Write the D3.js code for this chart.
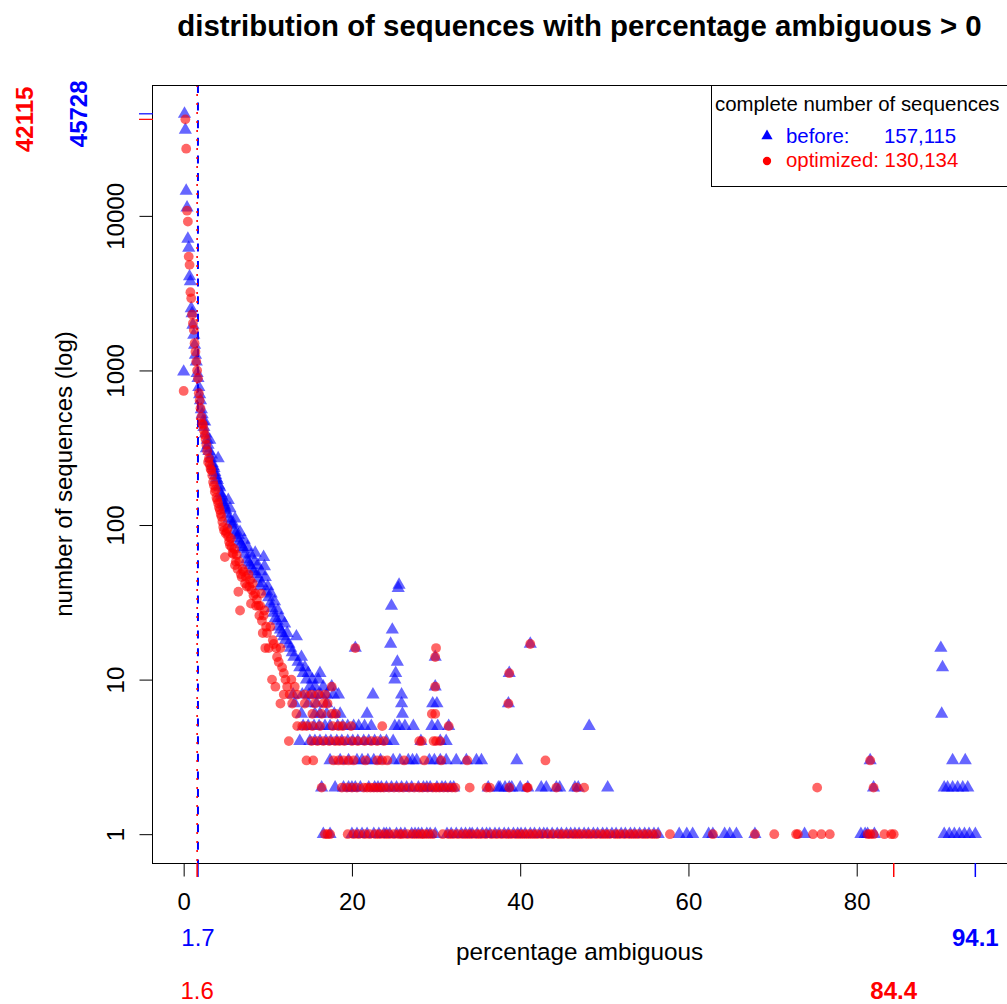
<!DOCTYPE html>
<html>
<head>
<meta charset="utf-8">
<script src="https://cdn.jsdelivr.net/npm/d3@7"></script>
<style>
  body { margin: 0; background: #fff; }
  svg { display: block; }
  text { font-family: "Liberation Sans", Arial, Helvetica, sans-serif; }
</style>
</head>
<body>
<svg id="chart" width="1007" height="1004"></svg>
<script>
// ---- data: percentage ambiguous vs. number of sequences ----
// steep part of the distribution, [percentage, count]
const beforeCurve = [
  [0.0,980],[0.1,45728],[0.2,36000],[0.3,14500],[0.4,11300],[0.5,7100],[0.6,6200],[0.7,4050],[0.8,3760],[0.9,2520],
  [1.0,2340],[1.1,1970],[1.2,1700],[1.3,1460],[1.4,1260],[1.5,1140],[1.6,960],[1.7,890],[1.8,780],[1.9,700],
  [2.0,640],[2.1,560],[2.2,520],[2.3,470],[2.4,430],[2.5,466],[2.6,390],[2.7,313],[2.8,355],[2.9,330],
  [3.0,300],[3.1,355],[3.2,270],[3.3,285],[3.4,250],[3.5,240],[3.6,233],[3.7,220],[3.8,210],[3.9,200],
  [4.0,195],[4.1,270],[4.2,180],[4.3,175],[4.4,160],[4.5,155],[4.6,150],[4.7,140],[4.8,135],[4.9,131],
  [5.0,125],[5.2,118],[5.3,145],[5.4,110],[5.5,128],[5.6,105],[5.8,100],[5.9,102],[6.0,92],[6.1,110],
  [6.2,88],[6.4,82],[6.5,86],[6.6,78],[6.7,90],[6.8,75],[7.0,72],[7.1,70],[7.2,80],[7.3,65],
  [7.5,60],[7.6,72],[7.7,57],[7.9,55],[8.0,64],[8.1,52],[8.3,50],[8.4,58],[8.5,66],[8.7,48],
  [8.8,55],[8.9,45],[9.1,40],[9.2,50],[9.3,42],[9.5,62],[9.6,54],[9.7,46],[9.9,37],[10.0,40],
  [10.1,34],[10.3,31],[10.4,36],[10.5,29],[10.7,27],[10.8,32],[10.9,25],[11.1,24],[11.2,28],[11.3,22],
  [11.5,21],[11.6,25],[11.7,20],[11.9,19],[12.0,23],[12.1,18],[12.3,20],[12.5,17],[12.7,16],[12.9,15],
  [13.1,14],[13.4,19],[13.6,13],[13.8,12],[14.0,14],[14.2,11],[14.4,12],[14.6,10],[14.8,11],[15.0,9],
  [15.3,10],[15.6,9],[16.0,10],[16.2,11],[16.6,9],[17.6,9],[20.4,16],[24.6,17],[24.7,30],[24.8,21],
  [25.1,10],[25.2,11],[25.4,13],[25.5,39],[25.6,41],[29.9,14],[29.9,9],[38.7,11],[41.2,17],[90.0,16],
  [90.2,12]
];
const optimizedCurve = [
  [0.0,737],[0.2,42115],[0.3,27200],[0.4,10800],[0.5,9190],[0.6,5450],[0.7,4820],[0.8,3210],[0.9,2930],
  [1.0,2300],[1.1,2020],[1.2,1830],[1.3,1500],[1.4,1320],[1.5,1140],[1.6,1000],[1.7,890],[1.8,712],[1.9,640],
  [2.0,570],[2.1,500],[2.2,455],[2.3,444],[2.4,410],[2.5,383],[2.6,360],[2.7,330],[2.8,300],[2.9,256],
  [3.0,270],[3.1,245],[3.2,230],[3.3,226],[3.4,210],[3.5,190],[3.6,180],[3.7,164],[3.8,170],[3.9,150],
  [4.0,145],[4.1,138],[4.2,130],[4.3,125],[4.4,118],[4.5,113],[4.6,105],[4.7,97],[4.8,92],[4.9,62],
  [5.0,88],[5.1,90],[5.2,95],[5.3,84],[5.4,78],[5.5,74],[5.6,82],[5.7,72],[5.8,66],[5.9,65],
  [6.0,70],[6.1,55],[6.2,58],[6.3,64],[6.4,52],[6.5,37],[6.6,58],[6.7,28],[6.8,48],[6.9,46],
  [7.0,52],[7.1,50],[7.3,42],[7.4,46],[7.5,40],[7.7,48],[7.8,40],[7.9,44],[8.0,31],[8.1,38],
  [8.2,42],[8.3,35],[8.5,36],[8.6,30],[8.7,33],[8.9,30],[9.0,26],[9.1,30],[9.2,36],[9.3,24],
  [9.4,20],[9.5,26],[9.6,28],[9.7,16],[9.8,22],[9.9,20],[10.1,16],[10.3,22],[10.5,10],[10.6,18],
  [10.7,17],[10.9,9],[11.0,16],[11.1,14],[11.3,13],[11.5,16],[11.7,12],[11.9,11],[12.1,10],[12.3,9],
  [12.8,10],[13.2,9],[17.6,9],[20.4,16],[29.9,14],[30.0,16],[29.9,9],[38.7,11],[41.2,17]
];

// tail of the distribution: percentages that occur a small number of times
const beforeEights = [13.0,14.1,14.9,15.6,16.3,17.0,17.8,18.4,22.5,25.9];
const beforeSevens = [13.2,14.8,15.8,17.0,25.9,29.6,30.1,38.6];
const beforeSixes  = [14.0,15.6,16.2,17.0,17.9,18.6,21.8,26.0,90.1];
const beforeFives  = [14.2,14.8,15.5,16.1,16.8,17.4,18.3,18.9,19.5,20.2,20.8,21.5,22.3,25.1,25.6,26.3,27.3,29.5,30.2,31.5,48.2];
const beforeFours  = [13.8,15.0,15.6,16.2,16.9,17.5,18.2,18.8,19.5,20.1,20.7,21.4,22.0,22.7,23.4,24.1,24.9,28.2,30.5,31.2];
const beforeThrees = [17.4,18.6,19.6,20.6,21.2,21.9,22.6,23.4,24.9,25.7,26.7,27.2,27.7,29.2,29.8,30.5,31.2,32.4,33.6,34.8,35.4,39.6,81.6,91.4,92.9];
const beforeTwos   = [16.4,18.0,19.0,19.6,20.0,20.4,21.0,22.0,22.7,23.1,23.5,24.1,24.7,25.3,25.9,26.5,27.1,27.9,28.5,28.9,29.3,30.1,30.7,31.1,31.7,32.1,
  36.2,37.4,37.6,38.2,38.7,39.0,40.0,40.9,42.5,43.1,44.3,44.7,46.5,46.9,50.4,82.0,90.4,90.8,91.4,92.0,92.6,93.2];
const beforeOnes   = [16.6,17.4,20.0,20.6,21.2,21.8,22.6,23.2,23.8,24.1,24.5,25.3,25.8,26.3,27.1,27.5,27.9,28.3,28.9,29.3,29.9,
  31.3,31.8,32.4,33.0,33.5,34.0,34.3,34.9,35.5,36.0,36.4,37.0,37.5,38.1,38.6,39.2,39.7,40.1,40.6,41.2,41.7,42.3,42.8,43.2,43.8,
  44.4,44.9,45.5,46.0,46.5,47.0,47.6,48.1,48.7,49.2,49.8,50.3,50.9,51.4,52.0,52.5,53.1,53.6,54.2,54.8,55.3,55.9,56.4,
  58.9,59.8,60.5,62.4,62.9,64.3,64.9,65.7,67.9,73.8,80.5,81.0,81.3,82.1,90.4,91.0,91.6,92.2,92.8,93.4,94.1];

const optimizedEights = [11.9,12.6,13.5,14.4,15.2,16.0,16.8];
const optimizedSevens = [11.5,12.9,14.4,15.6,16.6,17.1,38.6];
const optimizedSixes  = [13.4,15.3,16.4,17.6,18.1,29.5,29.9];
const optimizedFives  = [13.5,14.1,14.6,15.3,16.2,17.7,18.4,18.9,19.9,23.6,31.5];
const optimizedFours  = [12.5,15.2,15.9,16.6,17.3,18.0,18.5,19.1,20.0,20.7,21.5,22.3,23.0,23.8,28.0,28.3,29.7,30.0,30.5];
const optimizedThrees = [14.6,15.4,17.8,18.4,19.0,19.6,20.2,21.6,23.0,23.6,24.2,26.2,28.6,30.6,33.7,43.0,81.6];
const optimizedTwos   = [16.4,18.8,19.4,20.0,20.6,21.4,21.8,22.2,22.6,23.0,23.4,23.8,24.4,25.0,25.6,26.1,26.8,27.4,28.0,28.4,29.0,29.6,
  30.0,30.4,30.9,31.4,31.9,32.3,34.0,36.0,36.4,38.7,40.8,40.9,44.3,46.7,47.6,75.3,82.0];
const optimizedOnes   = [16.8,17.1,17.4,19.5,20.2,20.8,21.5,22.1,22.8,23.3,23.9,24.4,25.0,25.6,26.0,26.6,27.2,27.7,28.2,28.6,29.1,29.6,
  30.8,31.5,32.0,32.6,33.2,33.7,34.2,34.8,35.3,35.9,36.6,37.2,37.8,38.4,38.9,39.5,40.0,40.5,41.0,41.5,42.0,42.6,43.3,43.9,
  44.6,45.1,45.7,46.3,46.8,47.3,47.9,48.4,49.0,49.6,50.1,50.6,51.3,51.8,52.4,53.0,53.5,54.0,54.6,55.1,55.7,56.2,
  57.8,62.9,67.9,70.2,72.8,73.0,74.8,75.8,76.8,81.3,81.6,82.0,83.3,84.1,84.4];

// summary figures
const xTicks = [0, 20, 40, 60, 80];
const yTicks = [1, 10, 100, 1000, 10000];
const medianBefore = 1.7, medianOptimized = 1.6;
const maxPctBefore = 94.1, maxPctOptimized = 84.4;
const peakBefore = 45728, peakOptimized = 42115;
const totalBefore = "157,115", totalOptimized = "130,134";

const BLUE = "#0000FF", RED = "#FF0000";

// ---- assemble series ----
function withRows(curve, rows) {
  const pts = curve.map(([p, n]) => ({ p, n }));
  rows.forEach((arr, i) => arr.forEach(p => pts.push({ p, n: i + 1 })));
  return pts;
}
const beforePts = withRows(beforeCurve,
  [beforeOnes, beforeTwos, beforeThrees, beforeFours, beforeFives, beforeSixes, beforeSevens, beforeEights]);
const optimizedPts = withRows(optimizedCurve,
  [optimizedOnes, optimizedTwos, optimizedThrees, optimizedFours, optimizedFives, optimizedSixes, optimizedSevens, optimizedEights]);

// ---- layout ----
const plot = { left: 152, right: 1007, top: 85, bottom: 863 };
const allPct = beforePts.concat(optimizedPts).map(d => d.p);
const pMin = d3.min(allPct), pMax = d3.max(allPct);
const pPad = (pMax - pMin) * 0.04;
const x = d3.scaleLinear().domain([pMin - pPad, pMax + pPad]).range([plot.left, plot.right]);
const lMax = Math.log10(d3.max(beforePts.concat(optimizedPts), d => d.n));
const lPad = lMax * 0.04;
const y = d3.scaleLog().domain([Math.pow(10, -lPad), Math.pow(10, lMax + lPad)]).range([plot.bottom, plot.top]);

const svg = d3.select("#chart");

// ---- reference lines at the medians ----
svg.append("line")
  .attr("x1", x(medianBefore)).attr("x2", x(medianBefore))
  .attr("y1", plot.top).attr("y2", plot.bottom)
  .attr("stroke", BLUE).attr("stroke-width", 2).attr("stroke-dasharray", "8,9.6");
svg.append("line")
  .attr("x1", x(medianOptimized)).attr("x2", x(medianOptimized))
  .attr("y1", plot.top).attr("y2", plot.bottom)
  .attr("stroke", RED).attr("stroke-width", 1.6).attr("stroke-dasharray", "2,7");

// ---- points ----
const R = 4.9;
const triPath = `M0,${-1.5551 * R}L${1.3468 * R},${0.7776 * R}L${-1.3468 * R},${0.7776 * R}Z`;
svg.append("g").selectAll("path").data(beforePts).join("path")
  .attr("d", triPath)
  .attr("transform", d => `translate(${x(d.p)},${y(d.n)})`)
  .attr("fill", BLUE).attr("fill-opacity", 0.6);
svg.append("g").selectAll("circle").data(optimizedPts).join("circle")
  .attr("cx", d => x(d.p)).attr("cy", d => y(d.n)).attr("r", R)
  .attr("fill", RED).attr("fill-opacity", 0.6);

// ---- frame ----
svg.append("rect")
  .attr("x", plot.left + 0.5).attr("y", plot.top + 0.5)
  .attr("width", plot.right - plot.left).attr("height", plot.bottom - plot.top)
  .attr("fill", "none").attr("stroke", "#000").attr("stroke-width", 1);

// ---- x axis ----
const xAxis = svg.append("g").attr("transform", `translate(0,${plot.bottom + 0.5})`)
  .call(d3.axisBottom(x).tickValues(xTicks).tickSize(13).tickPadding(16).tickSizeOuter(0));
xAxis.select(".domain").attr("d", `M${x(xTicks[0])},0H${x(xTicks[xTicks.length - 1])}`).attr("stroke", "#000");
xAxis.selectAll(".tick line").attr("stroke", "#000");
xAxis.selectAll("text").attr("font-size", 24).attr("fill", "#000")
  .attr("font-family", '"Liberation Sans", Arial, sans-serif');

// ---- y axis ----
const yAxis = svg.append("g").attr("transform", `translate(${plot.left + 0.5},0)`)
  .call(d3.axisLeft(y).tickValues(yTicks).tickFormat(d3.format("d")).tickSize(13).tickSizeOuter(0));
yAxis.select(".domain").attr("d", `M0,${y(yTicks[0])}V${y(yTicks[yTicks.length - 1])}`).attr("stroke", "#000");
yAxis.selectAll(".tick line").attr("stroke", "#000");
yAxis.selectAll(".tick text")
  .attr("x", null).attr("dy", null)
  .attr("transform", "translate(-29,0) rotate(-90)")
  .attr("text-anchor", "middle").attr("font-size", 24).attr("fill", "#000")
  .attr("font-family", '"Liberation Sans", Arial, sans-serif');

// ---- coloured markers for medians, maxima and peaks ----
const mark = svg.append("g");
[[medianBefore, BLUE], [medianOptimized, RED], [maxPctBefore, BLUE], [maxPctOptimized, RED]].forEach(([v, c]) => {
  mark.append("line").attr("x1", x(v)).attr("x2", x(v))
    .attr("y1", plot.bottom).attr("y2", plot.bottom + 14)
    .attr("stroke", c).attr("stroke-width", 1.5);
});
[[peakBefore, BLUE], [peakOptimized, RED]].forEach(([v, c]) => {
  mark.append("line").attr("x1", plot.left - 13).attr("x2", plot.left + 1)
    .attr("y1", y(v)).attr("y2", y(v))
    .attr("stroke", c).attr("stroke-width", 1.2);
});

const lbl = svg.append("g").attr("font-size", 24).attr("text-anchor", "middle");
lbl.append("text").attr("x", x(medianBefore)).attr("y", 946).attr("fill", BLUE).text(String(medianBefore));
lbl.append("text").attr("x", x(medianOptimized)).attr("y", 999).attr("fill", RED).text(String(medianOptimized));
lbl.append("text").attr("x", x(maxPctBefore)).attr("y", 946).attr("fill", BLUE).attr("font-weight", "bold").text(String(maxPctBefore));
lbl.append("text").attr("x", x(maxPctOptimized)).attr("y", 999).attr("fill", RED).attr("font-weight", "bold").text(String(maxPctOptimized));
lbl.append("text").attr("transform", `translate(33,${y(peakOptimized)}) rotate(-90)`)
  .attr("fill", RED).attr("font-weight", "bold").text(String(peakOptimized));
lbl.append("text").attr("transform", `translate(87,${y(peakBefore)}) rotate(-90)`)
  .attr("fill", BLUE).attr("font-weight", "bold").text(String(peakBefore));

// ---- axis titles and main title ----
const midX = (plot.left + plot.right) / 2;
svg.append("text").attr("x", midX).attr("y", 960).attr("text-anchor", "middle")
  .attr("font-size", 24.3).attr("fill", "#000").text("percentage ambiguous");
svg.append("text").attr("transform", `translate(72,${(plot.top + plot.bottom) / 2}) rotate(-90)`)
  .attr("text-anchor", "middle").attr("font-size", 24).attr("fill", "#000").text("number of sequences (log)");
svg.append("text").attr("x", midX).attr("y", 36).attr("text-anchor", "middle")
  .attr("font-size", 29.4).attr("font-weight", "bold").attr("fill", "#000")
  .text("distribution of sequences with percentage ambiguous > 0");

// ---- legend ----
const leg = svg.append("g");
leg.append("rect").attr("x", 711.5).attr("y", plot.top + 0.5).attr("width", 310).attr("height", 101)
  .attr("fill", "#fff").attr("stroke", "#000").attr("stroke-width", 1);
leg.append("text").attr("x", 715).attr("y", 111).attr("font-size", 20.4).attr("fill", "#000")
  .text("complete number of sequences");
const rs = R * 0.85;
leg.append("path").attr("d", `M0,${-1.5551 * rs}L${1.3468 * rs},${0.7776 * rs}L${-1.3468 * rs},${0.7776 * rs}Z`)
  .attr("transform", "translate(767,136)").attr("fill", BLUE);
leg.append("circle").attr("cx", 767).attr("cy", 161).attr("r", rs).attr("fill", RED);
leg.append("text").attr("x", 786).attr("y", 143).attr("font-size", 20.4).attr("fill", BLUE).text("before:");
leg.append("text").attr("x", 884).attr("y", 143).attr("font-size", 20.4).attr("fill", BLUE).text(totalBefore);
leg.append("text").attr("x", 786).attr("y", 166.5).attr("font-size", 20.4).attr("fill", RED).text("optimized: " + totalOptimized);
</script>
</body>
</html>
